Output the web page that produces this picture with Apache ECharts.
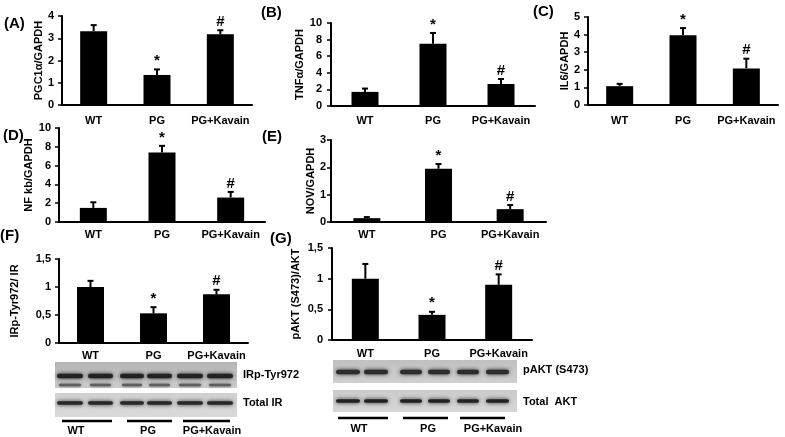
<!DOCTYPE html>
<html><head><meta charset="utf-8">
<script src="https://cdn.jsdelivr.net/npm/echarts@6/dist/echarts.min.js"></script>
<style>html,body{margin:0;padding:0;background:#fff}#c{width:785px;height:437px}</style>
</head><body><div id="c"></div>
<script>
// ---------- data ----------
const categories = ['WT', 'PG', 'PG+Kavain'];
const marks = ['', '*', '#'];

const pgc1a = [3.32, 1.35, 3.18];
const pgc1aErr = [0.27, 0.25, 0.18];
const tnfa = [1.7, 7.5, 2.65];
const tnfaErr = [0.4, 1.3, 0.6];
const il6 = [1.07, 3.97, 2.08];
const il6Err = [0.13, 0.4, 0.55];
const nfkb = [1.5, 7.4, 2.6];
const nfkbErr = [0.6, 0.7, 0.6];
const nov = [0.14, 1.95, 0.47];
const novErr = [0.04, 0.17, 0.15];
const irp = [1.0, 0.53, 0.87];
const irpErr = [0.11, 0.11, 0.08];
const pakt = [1.0, 0.41, 0.9];
const paktErr = [0.24, 0.05, 0.17];

const ticksA = ['0', '1', '2', '3', '4'];
const ticksB = ['0', '2', '4', '6', '8', '10'];
const ticksC = ['0', '1', '2', '3', '4', '5'];
const ticksD = ['0', '2', '4', '6', '8', '10'];
const ticksE = ['0', '1', '2', '3'];
const ticksF = ['0', '0,5', '1', '1,5'];
const ticksG = ['0', '0,5', '1', '1,5'];

const blotLabelsF = ['IRp-Tyr972', 'Total IR'];
const blotLabelsG = ['pAKT (S473)', 'Total  AKT'];

// ---------- panels ----------
const panels = [
  { letter: '(A)', name: 'PGC1\u03b1/GAPDH', vals: pgc1a, errs: pgc1aErr, ticks: ticksA, interval: 1,
    grid: { left: 62, top: 16, width: 190, height: 89 }, nameGap: 16, tickMargin: 8, xMargin: 10, lx: 4, ly: 25 },
  { letter: '(B)', name: 'TNF\u03b1/GAPDH', vals: tnfa, errs: tnfaErr, ticks: ticksB, interval: 2,
    grid: { left: 331, top: 23, width: 204, height: 83 }, nameGap: 22, tickMargin: 9, xMargin: 9, lx: 261, ly: 14 },
  { letter: '(C)', name: 'IL6/GAPDH', vals: il6, errs: il6Err, ticks: ticksC, interval: 1,
    grid: { left: 588, top: 17, width: 190, height: 88 }, nameGap: 17, tickMargin: 8, xMargin: 10, lx: 533, ly: 13 },
  { letter: '(D)', name: 'NF kb/GAPDH', vals: nfkb, errs: nfkbErr, ticks: ticksD, interval: 2,
    grid: { left: 59, top: 128, width: 206, height: 94 }, nameGap: 20, tickMargin: 8, xMargin: 7, lx: 3, ly: 137 },
  { letter: '(E)', name: 'NOV/GAPDH', vals: nov, errs: novErr, ticks: ticksE, interval: 1,
    grid: { left: 331, top: 140, width: 215, height: 82 }, nameGap: 10, tickMargin: 5, xMargin: 7, lx: 262, ly: 138 },
  { letter: '(F)', name: 'IRp-Tyr972/ IR', vals: irp, errs: irpErr, ticks: ticksF, interval: 0.5,
    grid: { left: 59, top: 259, width: 189, height: 84 }, nameGap: 39, tickMargin: 8, xMargin: 7, lx: 0, ly: 237 },
  { letter: '(G)', name: 'pAKT (S473)/AKT', vals: pakt, errs: paktErr, ticks: ticksG, interval: 0.5,
    grid: { left: 332, top: 248, width: 200, height: 92 }, nameGap: 31, tickMargin: 9, xMargin: 8, lx: 270, ly: 240 }
];

const FONT = 'Liberation Sans, Arial, sans-serif';

function errRender(params, api) {
  const i = api.value(0);
  const v = api.value(1), e = api.value(2);
  const base = api.coord([i, v]);
  const top = api.coord([i, v + e]);
  const children = [
    { type: 'line', shape: { x1: base[0], y1: base[1], x2: top[0], y2: top[1] }, style: { stroke: '#000', lineWidth: 2 } },
    { type: 'line', shape: { x1: top[0] - 3, y1: top[1], x2: top[0] + 3, y2: top[1] }, style: { stroke: '#000', lineWidth: 2 } }
  ];
  const mk = marks[i];
  if (mk) {
    children.push({ type: 'text', style: { text: mk, x: top[0], y: top[1] - 1, textAlign: 'center', align: 'center',
      textVerticalAlign: 'bottom', verticalAlign: 'bottom', font: 'bold 15px ' + FONT, fill: '#000' } });
  }
  return { type: 'group', children };
}

const grids = [], xAxes = [], yAxes = [], series = [], graphics = [];
panels.forEach((p, k) => {
  grids.push(Object.assign({}, p.grid));
  xAxes.push({
    type: 'category', gridIndex: k, data: categories,
    axisLine: { lineStyle: { color: '#000', width: 2 } }, axisTick: { show: false },
    axisLabel: { color: '#000', fontWeight: 'bold', fontSize: 11, fontFamily: FONT, margin: p.xMargin, interval: 0 }
  });
  const maxV = parseFloat(p.ticks[p.ticks.length - 1].replace(',', '.'));
  yAxes.push({
    type: 'value', gridIndex: k, min: 0, max: maxV, interval: p.interval,
    name: p.name, nameLocation: 'middle', nameGap: p.nameGap,
    nameTextStyle: { color: '#000', fontWeight: 'bold', fontSize: 11, fontFamily: FONT },
    axisLine: { show: true, lineStyle: { color: '#000', width: 2 } },
    axisTick: { show: true, length: 4, lineStyle: { color: '#000', width: 1.5 } },
    splitLine: { show: false },
    axisLabel: { color: '#000', fontWeight: 'bold', fontSize: 11, fontFamily: FONT, margin: p.tickMargin,
      formatter: (v) => { const idx = Math.round(v / p.interval); return p.ticks[idx] !== undefined ? p.ticks[idx] : ''; } }
  });
  series.push({
    type: 'bar', xAxisIndex: k, yAxisIndex: k, data: p.vals, barWidth: 27,
    itemStyle: { color: '#000' }, silent: true
  });
  series.push({
    type: 'custom', xAxisIndex: k, yAxisIndex: k, renderItem: errRender,
    data: p.vals.map((v, i) => [i, v, p.errs[i]]), encode: { x: 0, y: 1 }, silent: true, z: 5
  });
  graphics.push({ type: 'text', left: p.lx, top: p.ly - 9,
    style: { text: p.letter, font: 'bold 15px ' + FONT, fill: '#000' } });
});

// ---------- western blot illustrations ----------
function band(x, y, w, h, color, blur) {
  return { type: 'rect', shape: { x: x, y: y - h / 2, width: w, height: h, r: h / 2 },
    style: { fill: color, shadowBlur: blur, shadowColor: color } };
}
function blot(x, y, w, h, bg, lanes, bandY, bandH, color, extra) {
  const els = [{ type: 'rect', shape: { x, y, width: w, height: h },
    style: { fill: new echarts.graphic.LinearGradient(0, 0, 0, 1, [{ offset: 0, color: bg[0] }, { offset: 1, color: bg[1] }]) } }];
  lanes.forEach(l => els.push(band(l[0], bandY, l[1], bandH, color, 4)));
  if (extra) lanes.forEach(l => els.push(band(l[0] + 2, extra.y, l[1] - 4, extra.h, extra.color, 3)));
  return els;
}
function txt(t, x, y, align) {
  return { type: 'text', x: x, y: y, style: { text: t, x: 0, y: 0, textAlign: align || 'left', align: align || 'left',
    textVerticalAlign: 'middle', verticalAlign: 'middle', font: 'bold 11px ' + FONT, fill: '#000' } };
}
function seg(x1, x2, y) {
  return { type: 'line', shape: { x1, y1: y, x2, y2: y }, style: { stroke: '#000', lineWidth: 2.5 } };
}

const lanesF = [[57, 26], [88, 25], [120, 24], [147, 25], [177, 26], [207, 26]];
const lanesG = [[336, 24], [364, 24], [400, 22], [428, 22], [457, 22], [486, 23]];

const blotEls = [].concat(
  blot(55, 362, 182, 26, ['#b4b4b4', '#cccccc'], lanesF, 376, 4.5, '#222222', { y: 385, h: 2.5, color: '#5e5e5e' }),
  blot(55, 393, 182, 24, ['#d0d0d0', '#dadada'], lanesF, 403, 3.5, '#262626'),
  [txt(blotLabelsF[0], 243, 375), txt(blotLabelsF[1], 243, 403)],
  [seg(62, 112, 421), seg(127, 172, 421), seg(183, 230, 421)],
  [txt(categories[0], 76, 431, 'center'), txt(categories[1], 148, 431, 'center'), txt(categories[2], 212, 431, 'center')],
  blot(333, 360, 184, 23, ['#c0c0c0', '#d0d0d0'], lanesG, 372, 4.5, '#2c2c2c'),
  blot(333, 390, 184, 22, ['#cbcbcb', '#d6d6d6'], lanesG, 401, 3.5, '#222222'),
  [txt(blotLabelsG[0], 523, 370), txt(blotLabelsG[1], 523, 402)],
  [seg(338, 388, 418), seg(403, 448, 418), seg(460, 505, 418)],
  [txt(categories[0], 359, 429, 'center'), txt(categories[1], 428, 429, 'center'), txt(categories[2], 493, 429, 'center')]
);

const chart = echarts.init(document.getElementById('c'), null, { renderer: 'canvas' });
chart.setOption({
  animation: false,
  backgroundColor: '#fff',
  grid: grids, xAxis: xAxes, yAxis: yAxes, series: series,
  graphic: graphics.concat(blotEls)
});
</script></body></html>
